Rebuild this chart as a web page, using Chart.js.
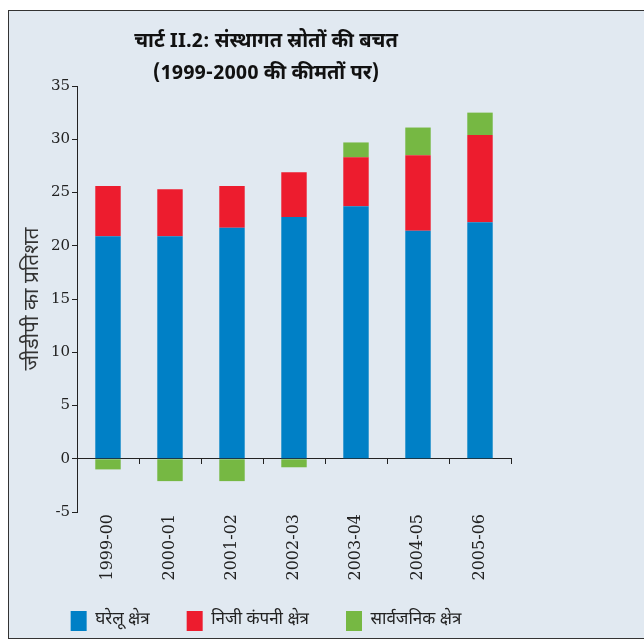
<!DOCTYPE html>
<html>
<head>
<meta charset="utf-8">
<script src="https://cdn.jsdelivr.net/npm/chart.js@4"></script>
<style>
  html, body { margin: 0; padding: 0; width: 644px; height: 641px; overflow: hidden; background: #fff; }
  #frame { position: absolute; left: 8px; top: 10px; width: 700px; height: 627px; border: 1px solid #333; background: #e1e9f1; }
  #wrap { position: absolute; left: 9px; top: 11px; width: 635px; height: 630px; }
</style>
</head>
<body>
<div id="frame"></div>
<div id="wrap"><canvas id="savingsChart"></canvas></div>
<script>
// संस्थागत स्रोतों की बचत, जीडीपी का प्रतिशत
const years = ['1999-00', '2000-01', '2001-02', '2002-03', '2003-04', '2004-05', '2005-06'];
const household = [20.9, 20.9, 21.7, 22.7, 23.7, 21.4, 22.2];
const privateCorp = [4.7, 4.4, 3.9, 4.2, 4.6, 7.1, 8.2];
const publicSector = [-1.0, -2.1, -2.1, -0.8, 1.4, 2.6, 2.1];
const seriesNames = ['घरेलू क्षेत्र', 'निजी कंपनी क्षेत्र', 'सार्वजनिक क्षेत्र'];
const yTicks = [-5, 0, 5, 10, 15, 20, 25, 30, 35];

const serif = '"DejaVu Serif", "Liberation Serif", serif';
const hindi = '"Noto Sans Devanagari", "Noto Serif Devanagari", "Lohit Devanagari", sans-serif';

const bar = (label, data, color) => ({
    label: label,
    data: data,
    backgroundColor: color,
    borderWidth: 0,
    barPercentage: 0.41,
    categoryPercentage: 1.0,
    xAxisID: 'x'
});

const ctx = document.getElementById('savingsChart');
new Chart(ctx, {
    type: 'bar',
    data: {
        labels: years,
        datasets: [
            bar(seriesNames[0], household, '#0080c6'),
            bar(seriesNames[1], privateCorp, '#ed1c2e'),
            bar(seriesNames[2], publicSector, '#76b843')
        ]
    },
    options: {
        responsive: true,
        maintainAspectRatio: false,
        animation: false,
        layout: { padding: { left: 12, right: 133, top: 0, bottom: 0 } },
        plugins: {
            title: {
                display: true,
                text: ['चार्ट II.2: संस्थागत स्रोतों की बचत', '(1999-2000 की कीमतों पर)'],
                color: '#111',
                font: { family: hindi, size: 20, weight: 'bold', lineHeight: 1.6 },
                padding: { top: 16, bottom: -5 }
            },
            legend: {
                position: 'bottom',
                labels: {
                    boxWidth: 16,
                    boxHeight: 20,
                    padding: 37,
                    color: '#222',
                    font: { family: hindi, size: 17 }
                }
            },
            tooltip: { enabled: false }
        },
        scales: {
            // category labels, hung below the -5 line (not clipped to a box)
            x: {
                stacked: true,
                position: { y: -5 },
                grid: { display: false, drawTicks: false },
                border: { display: false },
                ticks: {
                    color: '#222',
                    font: { family: serif, size: 16 },
                    minRotation: 90,
                    maxRotation: 90,
                    padding: 2
                }
            },
            // axis line with tick marks at zero
            x0: {
                stacked: true,
                position: { y: 0 },
                labels: years,
                offset: true,
                grid: {
                    offset: true,
                    drawOnChartArea: false,
                    drawTicks: true,
                    tickLength: 5,
                    color: '#222'
                },
                border: { display: true, color: '#222', width: 1 },
                ticks: { display: false }
            },
            // empty bottom axis that keeps room for the labels
            xs: {
                position: 'bottom',
                labels: years,
                grid: { display: false, drawTicks: false },
                border: { display: false },
                ticks: { display: false },
                afterFit: (axis) => { axis.height = 62; }
            },
            y: {
                stacked: true,
                min: -5,
                max: 35,
                afterBuildTicks: (axis) => { axis.ticks = yTicks.map(v => ({ value: v })); },
                afterFit: (axis) => { axis.width = 56; },
                grid: {
                    drawOnChartArea: false,
                    drawTicks: true,
                    tickLength: 5,
                    color: '#222'
                },
                border: { display: true, color: '#222', width: 1 },
                ticks: {
                    color: '#222',
                    font: { family: serif, size: 15 },
                    padding: 2
                },
                title: {
                    display: true,
                    text: 'जीडीपी का प्रतिशत',
                    color: '#333',
                    font: { family: hindi, size: 21 },
                    padding: { top: 0, bottom: 0 }
                }
            }
        }
    }
});
</script>
</body>
</html>
